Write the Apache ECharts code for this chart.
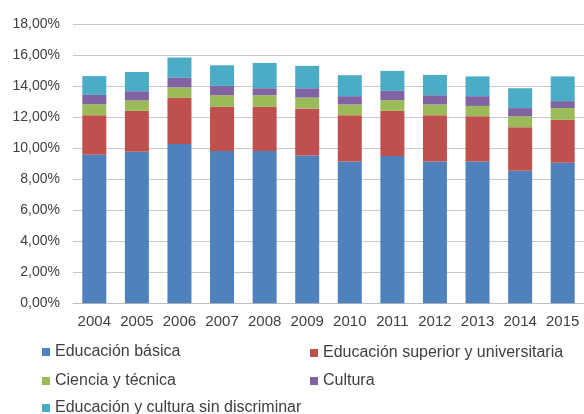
<!DOCTYPE html>
<html>
<head>
<meta charset="utf-8">
<script src="https://cdn.jsdelivr.net/npm/echarts@6/dist/echarts.min.js"></script>
<style>
  html, body { margin: 0; padding: 0; background: #fff; }
  #chart { width: 584px; height: 414px; }
</style>
</head>
<body>
<div id="chart"></div>
<script>
// datos (porcentaje)
var years = ['2004', '2005', '2006', '2007', '2008', '2009', '2010', '2011', '2012', '2013', '2014', '2015'];
var basica     = [9.58, 9.76, 10.26, 9.81, 9.81, 9.52, 9.14, 9.50, 9.14, 9.14, 8.54, 9.05];
var superior   = [2.54, 2.64, 2.98, 2.85, 2.85, 3.04, 2.98, 2.90, 2.98, 2.92, 2.81, 2.77];
var ciencia    = [0.71, 0.67, 0.67, 0.75, 0.75, 0.70, 0.69, 0.69, 0.69, 0.66, 0.69, 0.76];
var cultura    = [0.60, 0.60, 0.62, 0.60, 0.45, 0.60, 0.54, 0.60, 0.60, 0.63, 0.54, 0.45];
var sinDiscrim = [1.21, 1.24, 1.31, 1.33, 1.63, 1.44, 1.35, 1.29, 1.31, 1.27, 1.28, 1.59];

var names = ['Educación básica', 'Educación superior y universitaria', 'Ciencia y técnica', 'Cultura', 'Educación y cultura sin discriminar'];
var colors = ['#4f81bd', '#c0504d', '#9bbb59', '#8064a2', '#4bacc6'];
var values = [basica, superior, ciencia, cultura, sinDiscrim];

var myChart = echarts.init(document.getElementById('chart'));

// posiciones de la leyenda (2 columnas)
var legendPos = [[42, 344], [310, 345], [42, 373], [310, 373], [42, 400]];

var legends = names.map(function (n, i) {
    return {
        data: [n],
        left: legendPos[i][0],
        top: legendPos[i][1],
        padding: 0,
        itemWidth: 8,
        itemHeight: 8,
        icon: 'rect',
        selectedMode: false,
        textStyle: { color: '#404040', fontSize: 16, fontFamily: 'Liberation Sans, Arial', lineHeight: 16 }
    };
});

var option = {
    animation: false,
    color: colors,
    legend: legends,
    grid: { left: 73, top: 24, width: 516, bottom: 110.7 },
    xAxis: {
        type: 'category',
        data: years,
        axisTick: { show: false },
        axisLine: { lineStyle: { color: '#bfbfbf', width: 1 } },
        axisLabel: { interval: 0, color: '#404040', fontSize: 15, fontFamily: 'Liberation Sans, Arial', margin: 11 }
    },
    yAxis: {
        type: 'value',
        min: 0,
        max: 18,
        interval: 2,
        axisLine: { show: false },
        axisTick: { show: false },
        splitLine: { lineStyle: { color: '#c8c8c8', width: 1 } },
        axisLabel: {
            color: '#404040', fontSize: 14, fontFamily: 'Liberation Sans, Arial', margin: 13,
            formatter: function (v) { return v.toFixed(2).replace('.', ',') + '%'; }
        }
    },
    series: values.map(function (d, i) {
        return {
            name: names[i],
            type: 'bar',
            stack: 'total',
            barWidth: 24,
            data: d
        };
    })
};

myChart.setOption(option, true);
</script>
</body>
</html>
